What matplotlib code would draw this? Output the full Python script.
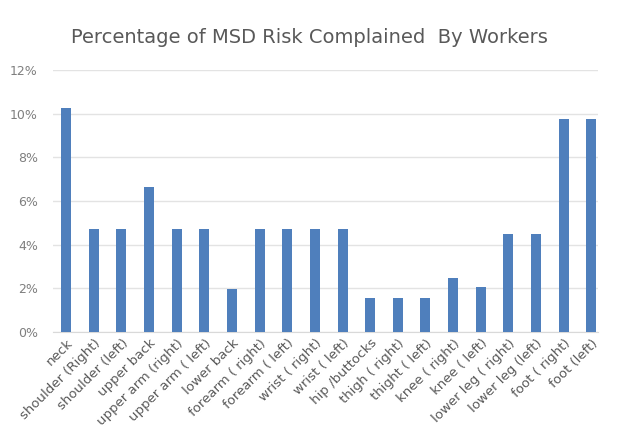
import matplotlib
matplotlib.use("Agg")
import matplotlib.pyplot as plt
from matplotlib.ticker import FuncFormatter

categories = ["neck", "shoulder (Right)", "shoulder (left)", "upper back",
              "upper arm (right)", "upper arm ( left)", "lower back",
              "forearm ( right)", "forearm ( left)", "wrist ( right)",
              "wrist ( left)", "hip /buttocks", "thigh ( right)", "thight ( left)",
              "knee ( right)", "knee ( left)", "lower leg ( right)",
              "lower leg (left)", "foot ( right)", "foot (left)"]
values = [10.25, 4.7, 4.7, 6.65, 4.7, 4.7, 1.95, 4.7, 4.7, 4.7,
          4.7, 1.55, 1.55, 1.55, 2.45, 2.05, 4.5, 4.5, 9.75, 9.75]
yticks = [0, 2, 4, 6, 8, 10, 12]

fig = plt.figure(figsize=(6.18, 4.32), dpi=100)
ax = fig.add_axes([0.086, 0.232, 0.882, 0.606])
x = list(range(len(categories)))
ax.bar(x, values, width=0.36, color="#4F7FBC", zorder=3)
ax.set_xlim(-0.47, len(categories) - 0.75)
ax.set_ylim(0, 12)
ax.set_yticks(yticks)
ax.yaxis.set_major_formatter(FuncFormatter(lambda v, p: f"{v:.0f}%"))
ax.grid(axis="y", color="#E3E3E3", linewidth=1, zorder=0)
for s in ["top", "right", "left"]:
    ax.spines[s].set_visible(False)
ax.spines["bottom"].set_color("#D9D9D9")
ax.tick_params(axis="both", length=0, colors="#7F7F7F", labelsize=9)
ax.tick_params(axis="y", pad=11)
ax.set_xticks(x)
ax.set_xticklabels(categories, rotation=45, ha="right", rotation_mode="anchor",
                   color="#595959", fontsize=9.5)
fig.suptitle("Percentage of MSD Risk Complained  By Workers", x=0.5, y=0.935,
             fontsize=14, color="#595959")
fig.savefig("out.png", dpi=100)
